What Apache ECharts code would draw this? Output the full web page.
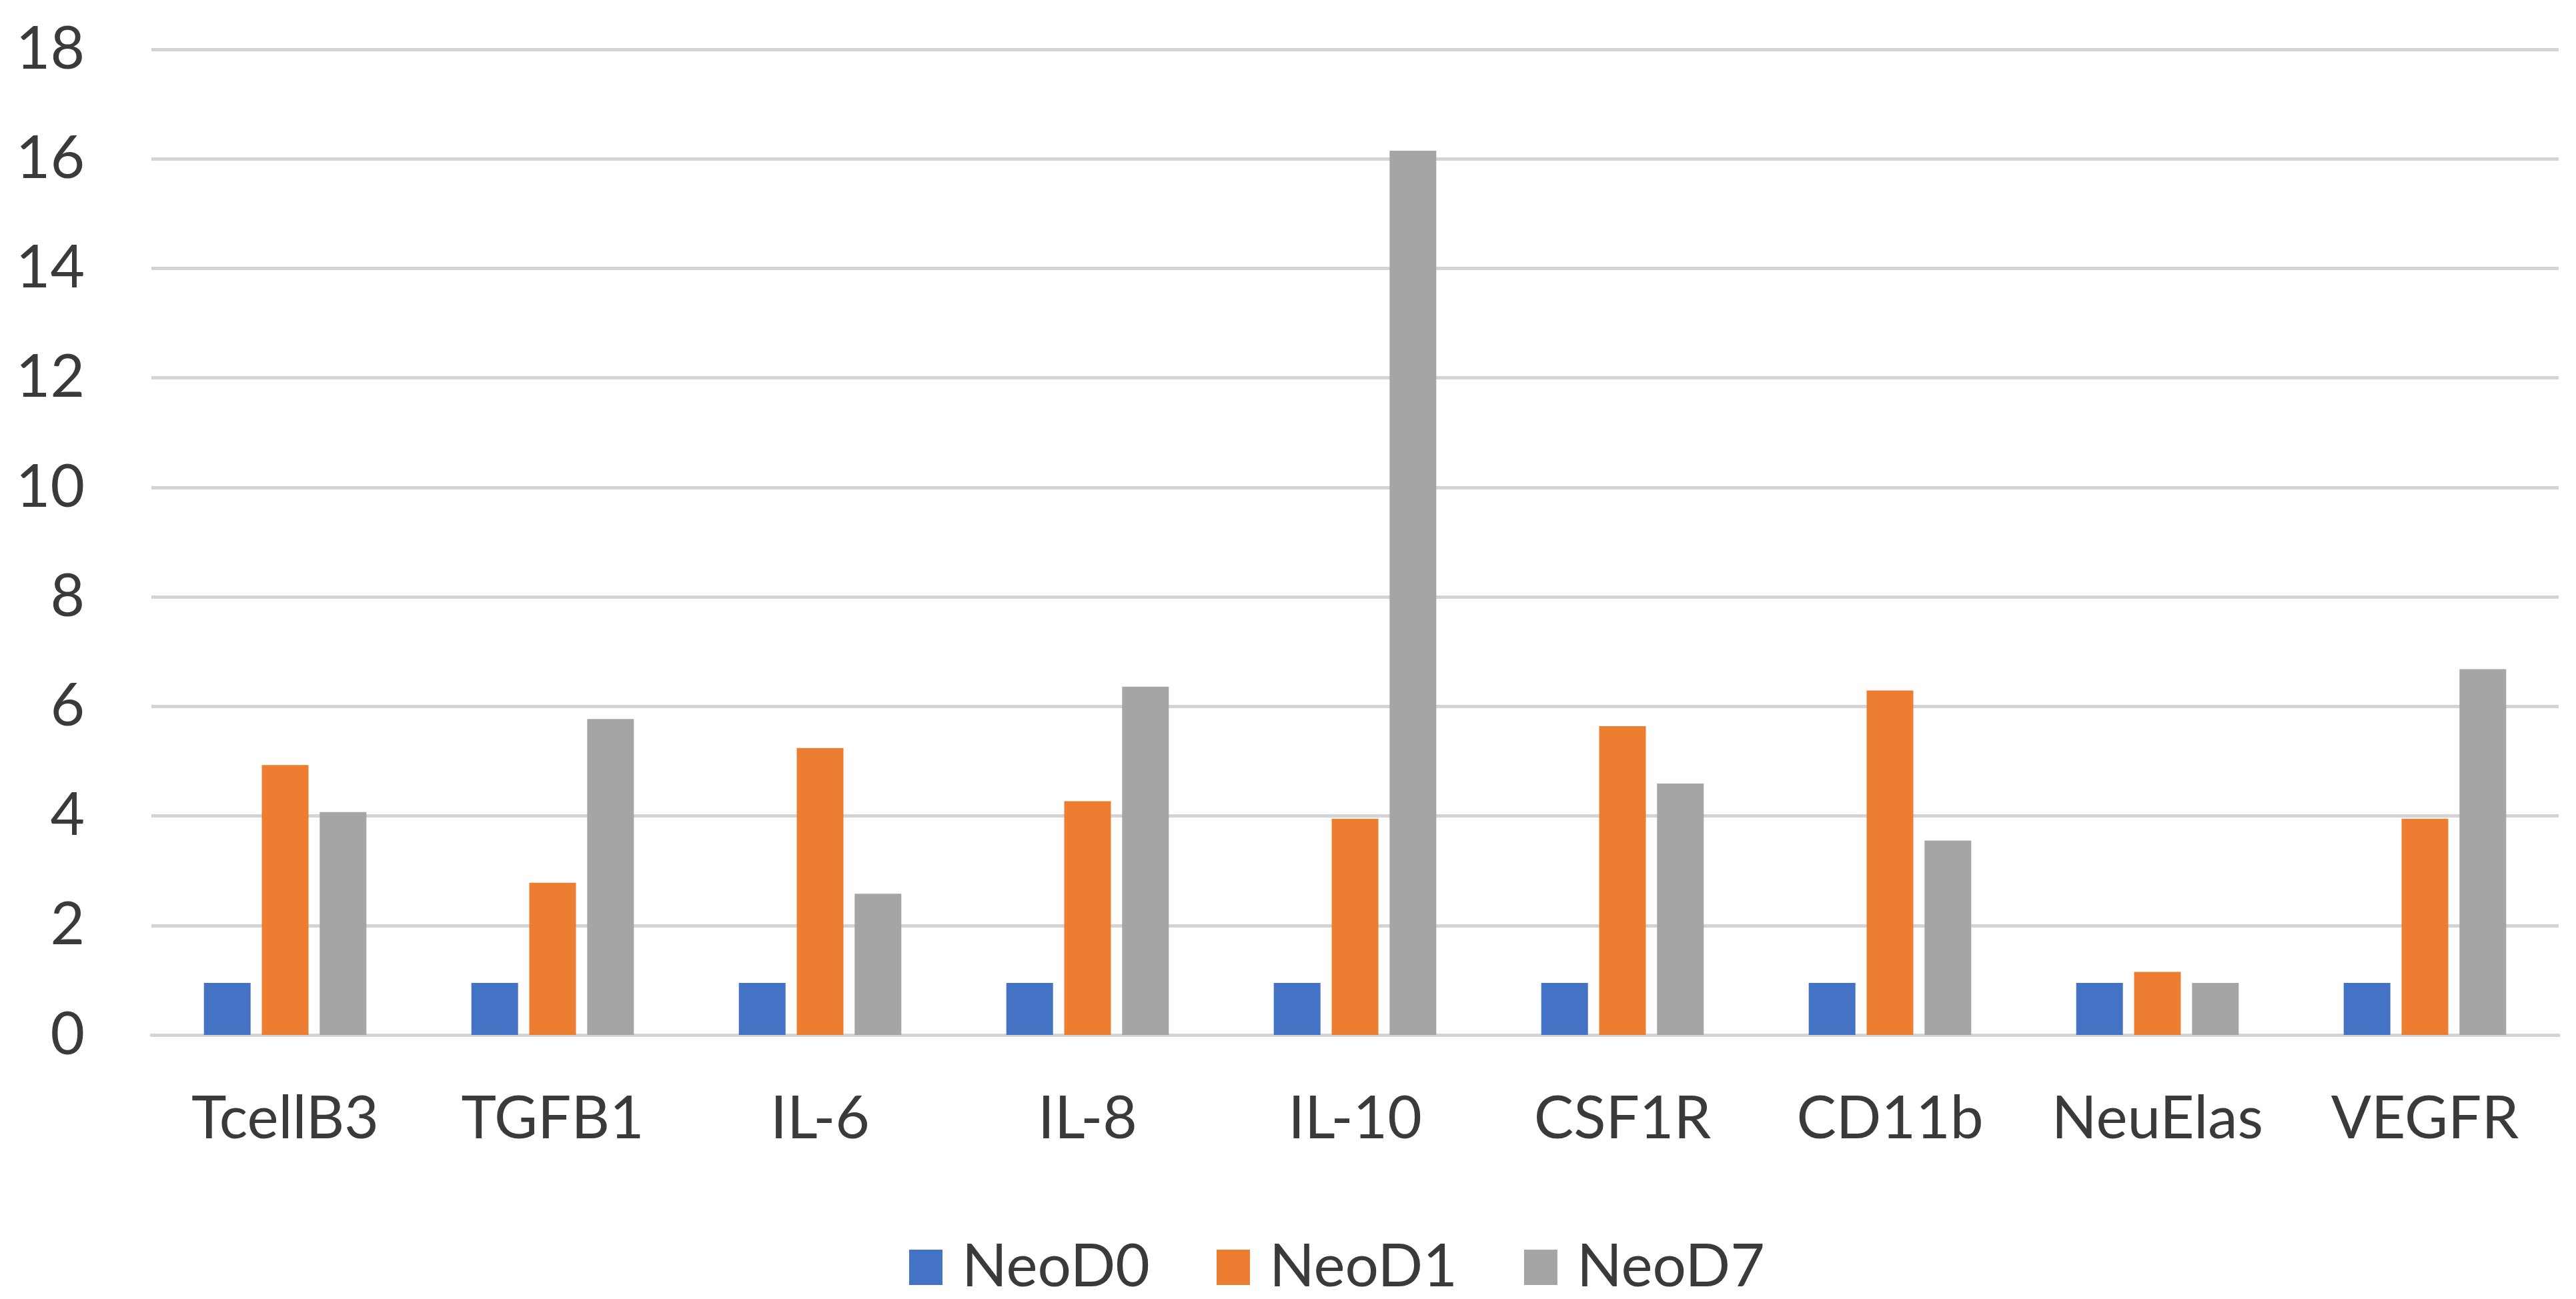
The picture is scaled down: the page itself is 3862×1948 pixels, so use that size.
<!DOCTYPE html>
<html>
<head>
<meta charset="utf-8">
<script src="https://cdn.jsdelivr.net/npm/echarts@6/dist/echarts.min.js"></script>
<style>
html,body{margin:0;padding:0;background:#fff;}
#chart{width:3862px;height:1948px;}
</style>
</head>
<body>
<div id="chart"></div>
<script>
const categories = ["TcellB3", "TGFB1", "IL-6", "IL-8", "IL-10", "CSF1R", "CD11b", "NeuElas", "VEGFR"];
const seriesNames = ["NeoD0", "NeoD1", "NeoD7"];
const neoD0 = [0.95, 0.95, 0.95, 0.95, 0.95, 0.95, 0.95, 0.95, 0.95];
const neoD1 = [4.93, 2.78, 5.24, 4.27, 3.95, 5.64, 6.29, 1.15, 3.95];
const neoD7 = [4.07, 5.77, 2.58, 6.36, 16.15, 4.59, 3.55, 0.95, 6.68];
const colors = ["#4472C4", "#ED7D31", "#A5A5A5"];

const FONT = "Lato";
const TEXT_COLOR = "#3a3a3a";
const GRID_COLOR = "#D4D4D4";

const chart = echarts.init(document.getElementById('chart'), null, {renderer: 'canvas'});
const values = [neoD0, neoD1, neoD7];
chart.setOption({
  animation: false,
  backgroundColor: '#ffffff',
  color: colors,
  grid: {left: 227, right: 26, top: 74, bottom: 396, containLabel: false},
  legend: {
    data: seriesNames,
    left: 1358,
    top: 1851,
    itemWidth: 50,
    itemHeight: 53,
    itemGap: 100,
    icon: 'rect',
    textStyle: {fontFamily: FONT, fontSize: 89, color: TEXT_COLOR, padding: [0, 0, 0, 24]}
  },
  xAxis: {
    type: 'category',
    data: categories,
    axisLine: {show: true, lineStyle: {color: GRID_COLOR, width: 5}},
    axisTick: {show: false},
    axisLabel: {fontFamily: FONT, fontSize: 89, color: TEXT_COLOR, margin: 82, interval: 0}
  },
  yAxis: {
    type: 'value',
    min: 0,
    max: 18,
    interval: 2,
    axisLine: {show: false},
    axisTick: {show: false},
    splitLine: {show: true, lineStyle: {color: GRID_COLOR, width: 5}},
    axisLabel: {fontFamily: FONT, fontSize: 89, color: TEXT_COLOR, margin: 100}
  },
  series: seriesNames.map((name, i) => ({
    name: name,
    type: 'bar',
    data: values[i],
    barWidth: 70,
    barGap: '24%',
    itemStyle: {color: colors[i]}
  }))
});
</script>
</body>
</html>
